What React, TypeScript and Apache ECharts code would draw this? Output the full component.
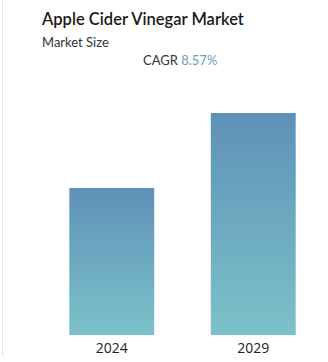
import React, { useEffect, useRef } from "react";
import * as echarts from "echarts";

const categories = ["2024", "2029"];
const marketSize = [2.45, 3.7];
const titleText = "Apple Cider Vinegar Market";
const subtitleText = "Market Size";
const cagrLabel = "CAGR";
const cagrValue = "8.57%";

export default function App() {
  const ref = useRef<HTMLDivElement>(null);
  useEffect(() => {
    if (!ref.current) return;
    const chart = echarts.init(ref.current, null, { renderer: "svg" });
    chart.setOption({
      animation: false,
      backgroundColor: "#ffffff",
      grid: { left: 41, right: 4, top: 113, bottom: 27 },
      xAxis: {
        type: "category",
        data: categories,
        axisLine: { show: false },
        axisTick: { show: false },
        axisLabel: {
          color: "#222222",
          fontSize: 14,
          fontFamily: "Open Sans",
          margin: 5,
        },
      },
      yAxis: {
        type: "value",
        min: 0,
        max: "dataMax",
        show: false,
        splitLine: { show: false },
      },
      series: [
        {
          type: "bar",
          data: marketSize,
          barWidth: "60%",
          itemStyle: {
            color: new echarts.graphic.LinearGradient(0, 0, 0, 1, [
              { offset: 0, color: "#5e91b8" },
              { offset: 1, color: "#7cc2c9" },
            ]),
          },
        },
      ],
      graphic: [
        {
          type: "line",
          shape: { x1: 2.5, y1: 0, x2: 2.5, y2: 356 },
          style: { stroke: "#e6e6e6", lineWidth: 1 },
        },
        {
          type: "text",
          left: 42,
          top: 10,
          style: {
            text: titleText,
            fontSize: 16.5,
            fontWeight: 600,
            fontFamily: "Lato",
            fill: "#1a1a1a",
          },
        },
        {
          type: "text",
          left: 42,
          top: 35,
          style: {
            text: subtitleText,
            fontSize: 13,
            fontFamily: "Lato",
            fill: "#333333",
          },
        },
        {
          type: "text",
          left: 143,
          top: 53,
          style: {
            rich: {
              a: { fontSize: 13, fontFamily: "Lato", fill: "#333333" },
              b: { fontSize: 13, fontFamily: "Lato", fill: "#6c9ec1" },
            },
            text: `{a|${cagrLabel}} {b|${cagrValue}}`,
          },
        },
      ],
    });
    return () => chart.dispose();
  }, []);
  return (
    <div
      ref={ref}
      style={{ position: "absolute", left: 0, top: 0, width: 328, height: 362 }}
    />
  );
}
